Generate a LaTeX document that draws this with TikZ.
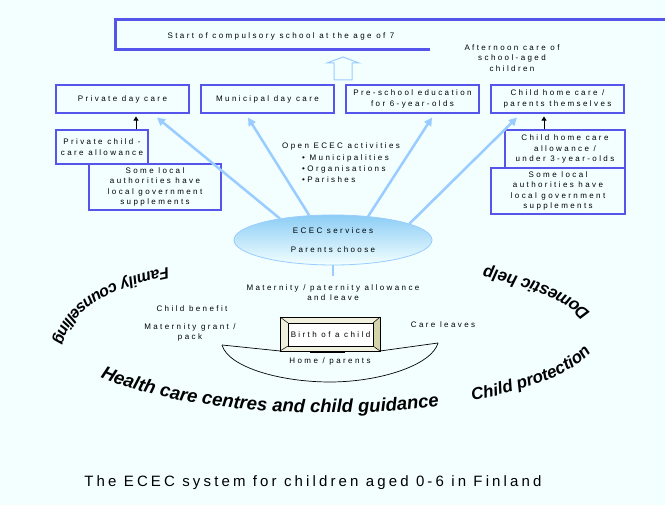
\documentclass[tikz,border=0pt]{standalone}
\usepackage{fontspec}
\setmainfont{Liberation Sans}
\newfontfamily\boxfont[LetterSpace=30]{Liberation Sans}
\newfontfamily\capfnt[LetterSpace=21]{Liberation Sans}
\usepackage{tikz}
\usetikzlibrary{shapes.geometric,arrows.meta,decorations.text}
\definecolor{bgcol}{RGB}{243,255,255}
\definecolor{boxblue}{RGB}{85,85,235}
\definecolor{flowblue}{RGB}{153,204,255}
\definecolor{ecectop}{RGB}{140,205,245}
\definecolor{bevel}{RGB}{212,212,170}
\definecolor{bevlight}{RGB}{240,240,222}
\newcommand{\arcfont}{\fontsize{17}{17}\selectfont\bfseries\itshape}

\begin{document}
\begin{tikzpicture}[x=1pt, y=1pt,
    txt/.style={align=center, inner sep=1pt, font=\boxfont\fontsize{8}{10.3}\selectfont},
    cbox/.style={txt, draw=boxblue, line width=1.1pt, minimum width=#1},
    flow/.style={flowblue, line width=2.5pt, -{Triangle[width=8pt,length=8pt]}},
    pin/.style={black, line width=0.8pt, -{Triangle[width=5pt,length=4pt]}}
]
\fill[bgcol] (0,0) rectangle (665,505);
\useasboundingbox (0,0) rectangle (665,505);

% school start
\draw[boxblue, line width=3pt] (665,485) -- (115,485) -- (115,455) -- (430,455);
\node[txt] (school) at (281,469) {Start of compulsory school at the age of 7};
\node[txt] (afternoon) at (512,447) {Afternoon care of\\school-aged\\children};
\draw[flowblue, line width=1pt] (334,425) -- (334,442) -- (327,442) -- (343,448) -- (359,442) -- (352,442) -- (352,425) -- cycle;

% forms of care
\node[cbox=133pt, minimum height=28pt] (privdc) at (122.5,406) {Private day care};
\node[cbox=133pt, minimum height=28pt] (munidc) at (267.5,406) {Municipal day care};
\node[cbox=133pt, minimum height=28pt] (presch) at (412.5,406) {Pre-school education\\for 6-year-olds};
\node[cbox=133pt, minimum height=28pt] (homedc) at (557.5,406) {Child home care /\\parents themselves};

\node[cbox=92pt, minimum height=34pt] (privallow) at (102,358) {Private child -\\care allowance};
\node[cbox=132pt, minimum height=46pt] (suppl) at (155,318) {Some local\\authorities have\\local government\\supplements};
\node[cbox=120pt, minimum height=38pt] (homeallow) at (565,356) {Child home care\\allowance /\\under 3-year-olds};
\node[cbox=134pt, minimum height=46pt] (supplr) at (558,314) {Some local\\authorities have\\local government\\supplements};
\draw[pin] ([xshift=34pt]privallow.north) -- ([xshift=13.5pt,yshift=-3pt]privdc.south);
\draw[pin] ([xshift=-21pt]homeallow.north) -- ([xshift=-13.5pt,yshift=-3pt]homedc.south);

\node[txt, align=left, anchor=north west] (openecec) at (281,363) {Open ECEC activities\\[1pt]\hspace*{20pt}• Municipalities\\[1pt]\hspace*{20pt}•Organisations\\[1pt]\hspace*{20pt}•Parishes};

% parents choose
\node[txt, ellipse, draw=flowblue, line width=0.8pt, top color=ecectop, bottom color=bgcol, minimum width=198pt, minimum height=50pt, inner sep=0pt] (ecec) at (333,265) {ECEC services\\[9pt]Parents choose};
\draw[flow] (ecec.158) -- ([xshift=34.5pt,yshift=-4pt]privdc.south);
\draw[flow] (ecec.134) -- ([xshift=-19.5pt,yshift=-4pt]munidc.south);
\draw[flow] (ecec.34) -- ([xshift=19.5pt,yshift=-4pt]presch.south);
\draw[flow] (ecec.12) -- ([xshift=-40.5pt,yshift=-4pt]homedc.south);

\node[txt] (matern) at (333,212.5) {Maternity / paternity allowance\\and leave};
\draw[flowblue, line width=2.5pt] (ecec.south) -- ([yshift=7pt]matern.north);
\node[txt] (childben) at (192,196) {Child benefit};
\node[txt] (grant) at (190,172.5) {Maternity grant /\\pack};
\node[txt] (careleave) at (443,180) {Care leaves};

% birth of a child
\fill[bevlight] (280,154) rectangle (380,188);
\fill[bevel] (380,188) -- (380,154) -- (373,159) -- (373,182) -- cycle;
\draw[line width=0.8pt] (280,154) rectangle (380,188);
\draw[line width=0.5pt] (280,188) -- (288,182) (380,188) -- (373,182) (280,154) -- (288,159) (380,154) -- (373,159);
\node[txt, draw=black, line width=0.8pt, fill=white, minimum width=85pt, minimum height=23pt] (birth) at (330.5,170.5) {Birth of a child};
\draw[line width=2pt] (310,153) -- (345,153);
\coordinate (framesw) at (280,154);
\coordinate (framese) at (380,154);
\coordinate (rimL) at (222,160);
\coordinate (rimR) at (438,162);
\draw[line width=0.7pt] (rimL) -- (framesw) (framese) -- (rimR);
\draw[line width=0.7pt] (rimL) .. controls (228,138) and (280,123) .. (330,123) .. controls (380,123) and (432,140) .. (rimR);
\node[txt] (home) at (330,144) {Home / parents};

% services around the family
\begin{scope}[shift={(327,172)}]
\path[decorate, decoration={text along path, text align=center, text={|\fontsize{18.5}{18.5}\selectfont\bfseries\itshape|Health care centres and child guidance}}] (211:272 and 80) arc[start angle=211, end angle=296, x radius=272, y radius=80];
\path[decorate, decoration={text along path, text align=center, text={|\arcfont|Child protection}}] (300:272 and 80) arc[start angle=300, end angle=352, x radius=272, y radius=80];
\path[decorate, decoration={text along path, text align=center, text={|\arcfont|Domestic help}}] (12:272 and 80) arc[start angle=12, end angle=56, x radius=272, y radius=80];
\end{scope}
\path[decorate, decoration={text along path, text align=center, text={|\fontsize{16}{16}\selectfont\bfseries\itshape|Family counselling}}] (182,240) .. controls (112,228) and (56,205) .. (52,148);

\node[font=\capfnt\fontsize{15}{18}\selectfont] (caption) at (313,22) {The ECEC system for children aged 0-6 in Finland};
\end{tikzpicture}
\end{document}
